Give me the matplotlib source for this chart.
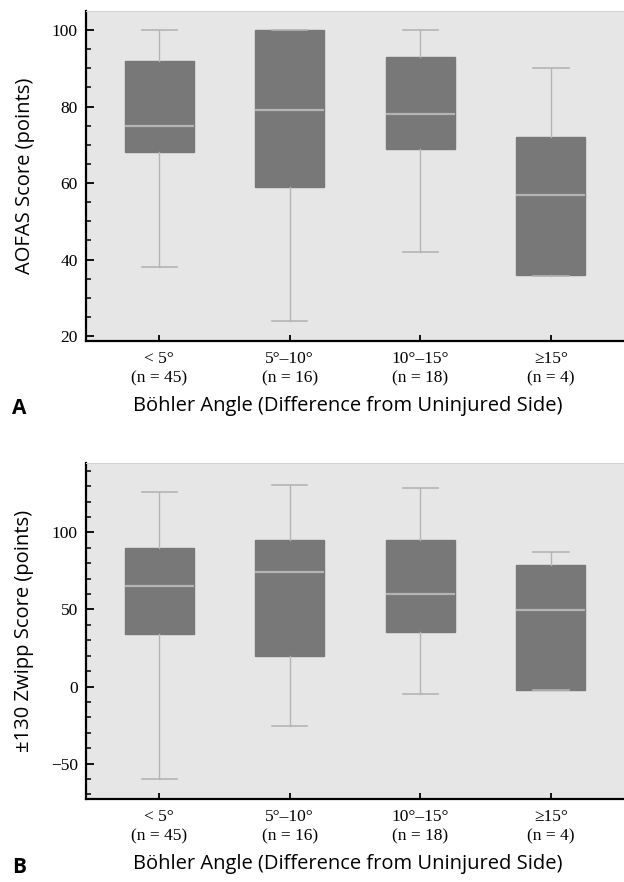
import matplotlib.pyplot as plt

# category labels (shared by both panels)
groups = ["< 5°\n(n = 45)", "5°–10°\n(n = 16)", "10°–15°\n(n = 18)", "≥15°\n(n = 4)"]

# panel A: AOFAS score summaries
aofas_whislo = [38, 24, 42, 35.8]
aofas_q1 = [68, 59, 69, 36]
aofas_med = [75, 79, 78, 57]
aofas_q3 = [92, 100, 93, 72]
aofas_whishi = [100, 100, 100, 90]

# panel B: Zwipp score summaries
zwipp_whislo = [-60, -25.5, -5, -2.3]
zwipp_q1 = [34, 20, 35.5, -2]
zwipp_med = [65, 74.5, 60, 49.5]
zwipp_q3 = [90, 95, 95, 79]
zwipp_whishi = [126, 130.5, 128.5, 87]

BG = "#e6e6e6"
BOX = "#787878"
LIGHT = "#b4b4b4"
SERIF = "Liberation Serif"
SANS = "Open Sans"


def make_stats(lo, q1, med, q3, hi):
    return [dict(whislo=a, q1=b, med=c, q3=d, whishi=e, fliers=[])
            for a, b, c, d, e in zip(lo, q1, med, q3, hi)]


def draw_panel(ax, stats, ylabel, letter, ylim, major, minor):
    ax.set_facecolor(BG)
    ax.bxp(stats, positions=range(len(stats)), widths=0.53, patch_artist=True,
           showfliers=False,
           boxprops=dict(facecolor=BOX, edgecolor=BOX, linewidth=1),
           medianprops=dict(color=LIGHT, linewidth=1.6),
           whiskerprops=dict(color=LIGHT, linewidth=1),
           capprops=dict(color=LIGHT, linewidth=1.2),
           capwidths=0.27)
    ax.set_xlim(-0.56, 3.56)
    ax.set_ylim(*ylim)
    ax.set_yticks(major)
    ax.set_yticks(minor, minor=True)
    ax.set_xticks(range(len(groups)))
    ax.set_xticklabels(groups, fontfamily=SERIF, fontsize=12.5, linespacing=1.3)
    for t in ax.get_yticklabels():
        t.set_fontfamily(SERIF)
        t.set_fontsize(12.5)
    ax.tick_params(axis="y", which="major", direction="in", length=6, width=1.3,
                   color="black", pad=6)
    ax.tick_params(axis="x", which="major", direction="in", length=4, width=1.3,
                   color="black", pad=7)
    ax.tick_params(axis="y", which="minor", direction="in", length=3.5, width=1.1)
    for s in ("left", "bottom"):
        ax.spines[s].set_linewidth(1.6)
        ax.spines[s].set_color("black")
    ax.spines["top"].set_color("#d4d4d4")
    ax.spines["right"].set_visible(False)
    ax.set_ylabel(ylabel, fontfamily=SANS, fontsize=14.5, labelpad=12)
    ax.set_xlabel("Böhler Angle (Difference from Uninjured Side)",
                  fontfamily=SANS, fontsize=14.5, labelpad=7, x=0.487)
    ax.text(-0.125, -0.205, letter, transform=ax.transAxes, fontfamily=SANS,
            fontsize=15, fontweight="bold", va="center", ha="center")


fig = plt.figure(figsize=(6.24, 8.82), dpi=100)
ax1 = fig.add_axes([0.138, 0.6134, 0.862, 0.3741])
ax2 = fig.add_axes([0.138, 0.0940, 0.862, 0.3810])

draw_panel(ax1, make_stats(aofas_whislo, aofas_q1, aofas_med, aofas_q3, aofas_whishi),
           "AOFAS Score (points)", "A", (18.7, 105),
           [20, 40, 60, 80, 100], list(range(20, 105, 5)))
draw_panel(ax2, make_stats(zwipp_whislo, zwipp_q1, zwipp_med, zwipp_q3, zwipp_whishi),
           "±130 Zwipp Score (points)", "B", (-73, 145),
           [-50, 0, 50, 100], list(range(-70, 145, 10)))

fig.savefig("out.png", dpi=100)
